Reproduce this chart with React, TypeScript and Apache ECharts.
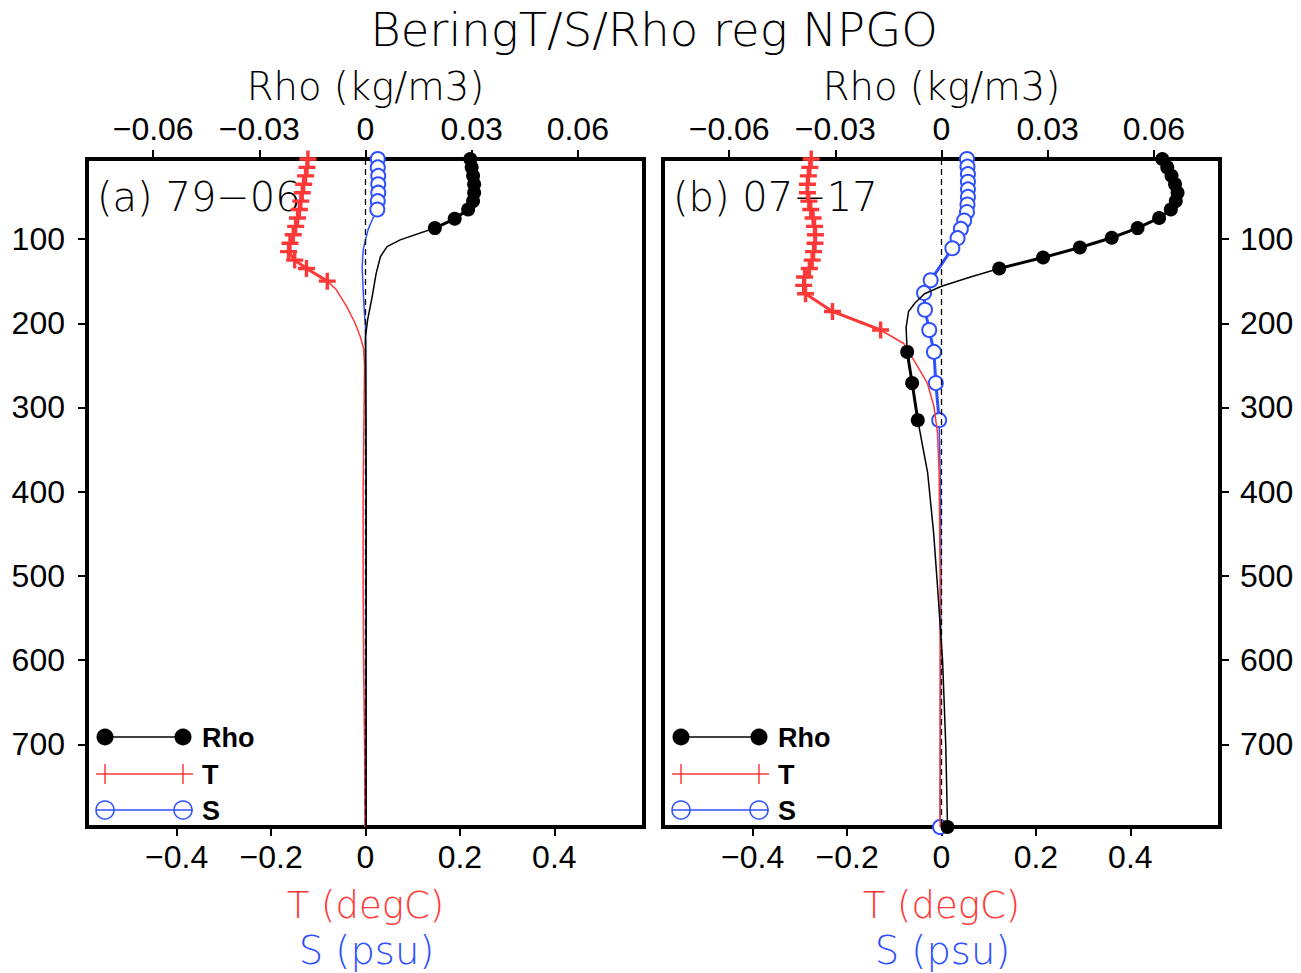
import { useEffect, useRef } from 'react';
import * as echarts from 'echarts';

// ---------- axis ticks ----------
const depthTicks = [100, 200, 300, 400, 500, 600, 700];
const tsTicks = [-0.4, -0.2, 0, 0.2, 0.4];
const rhoTicks = [-0.06, -0.03, 0, 0.03, 0.06];
const depthMin = 5;
const depthMax = 798;
const tsMin = -0.59;
const tsMax = 0.59;
const rhoMin = -0.0787;
const rhoMax = 0.0787;

// ---------- panel (a) 79-06 ----------
const aRhoDepth = [5, 15, 25, 35, 45, 55, 65, 76, 87, 101, 109, 121, 141, 168, 196, 216, 240, 300, 400, 500, 600, 700, 798];
const aRhoVal = [0.0296, 0.03, 0.0304, 0.0307, 0.0307, 0.0304, 0.029, 0.0252, 0.0196, 0.0098, 0.0061, 0.0042, 0.003, 0.0019, 0.0006, 0.0, 0.0, 0.0001, 0.0002, 0.0002, 0.0002, 0.0002, 0.0002];
const aRhoSig = [1, 1, 1, 1, 1, 1, 1, 1, 1, 0, 0, 0, 0, 0, 0, 0, 0, 0, 0, 0, 0, 0, 0];

const aTDepth = [5, 15, 25, 35, 45, 55, 65, 75, 85, 95, 105, 115, 125, 135, 150, 160, 180, 200, 216, 230, 250, 300, 400, 500, 600, 700, 798];
const aTVal = [-0.122, -0.124, -0.127, -0.131, -0.134, -0.137, -0.14, -0.144, -0.148, -0.153, -0.16, -0.163, -0.15, -0.125, -0.081, -0.062, -0.04, -0.022, -0.011, -0.004, -0.002, -0.003, -0.005, -0.005, -0.004, -0.002, -0.001];
const aTSig = [1, 1, 1, 1, 1, 1, 1, 1, 1, 1, 1, 1, 1, 1, 1, 0, 0, 0, 0, 0, 0, 0, 0, 0, 0, 0, 0];

const aSDepth = [5, 15, 25, 35, 45, 55, 65, 75, 88, 101, 113, 133, 161, 190, 204, 250, 300, 400, 500, 600, 700, 798];
const aSVal = [0.026, 0.026, 0.027, 0.027, 0.027, 0.026, 0.025, 0.016, 0.006, 0.0, -0.005, -0.007, -0.005, -0.002, 0.0, 0.001, 0.001, 0.001, 0.001, 0.001, 0.001, 0.001];
const aSSig = [1, 1, 1, 1, 1, 1, 1, 0, 0, 0, 0, 0, 0, 0, 0, 0, 0, 0, 0, 0, 0, 0];

// ---------- panel (b) 07-17 ----------
const bRhoDepth = [5, 15, 25, 35, 45, 55, 65, 75, 87, 98.5, 110, 122, 135, 145, 156, 165, 176, 186, 205, 234, 271, 315, 378, 450, 520, 600, 700, 798];
const bRhoVal = [0.0624, 0.0638, 0.065, 0.066, 0.0667, 0.0662, 0.0648, 0.0615, 0.0554, 0.0481, 0.0391, 0.0287, 0.0163, 0.0082, 0.0, -0.0048, -0.0075, -0.0093, -0.01, -0.0097, -0.0083, -0.0067, -0.0039, -0.0022, -0.001, 0.0003, 0.0012, 0.0017];
const bRhoSig = [1, 1, 1, 1, 1, 1, 1, 1, 1, 1, 1, 1, 1, 0, 0, 0, 0, 0, 0, 1, 1, 1, 0, 0, 0, 0, 0, 1];

const bTDepth = [5, 15, 25, 35, 45, 55, 65, 75, 85, 95, 105, 115, 125, 135, 145, 155, 165, 186, 208, 224, 251, 271, 299, 330, 378, 500, 650, 798];
const bTVal = [-0.276, -0.279, -0.282, -0.284, -0.284, -0.281, -0.277, -0.272, -0.269, -0.267, -0.268, -0.271, -0.274, -0.28, -0.29, -0.292, -0.288, -0.231, -0.129, -0.08, -0.051, -0.03, -0.016, -0.0085, -0.005, -0.003, -0.003, -0.003];
const bTSig = [1, 1, 1, 1, 1, 1, 1, 1, 1, 1, 1, 1, 1, 1, 1, 1, 1, 1, 1, 0, 0, 0, 0, 0, 0, 0, 0, 0];

const bSDepth = [5, 14, 23, 32, 41, 50, 59, 68, 78, 88, 99, 111, 149, 164, 184, 208, 234, 271, 315, 400, 500, 650, 798];
const bSVal = [0.054, 0.055, 0.056, 0.056, 0.056, 0.056, 0.055, 0.054, 0.048, 0.041, 0.034, 0.023, -0.023, -0.037, -0.035, -0.026, -0.016, -0.012, -0.005, -0.002, -0.001, -0.002, -0.003];
const bSSig = [1, 1, 1, 1, 1, 1, 1, 1, 1, 1, 1, 1, 1, 1, 1, 1, 1, 1, 1, 0, 0, 0, 1];

const panelLabels = ['(a) 79\u221206', '(b) 07\u221217'];
const titleText = 'BeringT/S/Rho reg NPGO';

const RED = '#ff3838';
const BLUE = '#2f50ff';
const PLUS = 'path://M4,0 H6 V4 H10 V6 H6 V10 H4 V6 H0 V4 H4 Z';

function fmt(v: number): string {
  if (v === 0) return '0';
  const s = String(Math.abs(v));
  return v < 0 ? '\u2212' + s : s;
}

function full(depth: number[], val: number[]) {
  return depth.map((d, i) => [val[i], d]);
}
function sigOnly(depth: number[], val: number[], sig: number[]) {
  return depth.map((d, i) => (sig[i] ? [val[i], d] : ['-', d]));
}

const GRID_LEFT = [87, 663];
const GRID_TOP = 159;
const GRID_W = 557;
const GRID_H = 668;

export default function App() {
  const ref = useRef<HTMLDivElement>(null);
  useEffect(() => {
    if (!ref.current) return;
    const chart = echarts.init(ref.current, undefined, { renderer: 'svg' });
    const tickFont = { fontFamily: 'Liberation Sans', fontSize: 32, color: '#000' };

    const grids: any[] = [];
    const xAxes: any[] = [];
    const yAxes: any[] = [];
    const series: any[] = [];
    const graphics: any[] = [];

    const panels = [
      { rho: [aRhoDepth, aRhoVal, aRhoSig], t: [aTDepth, aTVal, aTSig], s: [aSDepth, aSVal, aSSig] },
      { rho: [bRhoDepth, bRhoVal, bRhoSig], t: [bTDepth, bTVal, bTSig], s: [bSDepth, bSVal, bSSig] },
    ];

    const thinFont = { fontFamily: 'DejaVu Sans', fontWeight: 200 };

    panels.forEach((p, k) => {
      grids.push({
        left: GRID_LEFT[k], top: GRID_TOP, width: GRID_W, height: GRID_H,
        show: true, borderColor: '#000', borderWidth: 4, backgroundColor: 'transparent',
      });
      // bottom T/S axis
      xAxes.push({
        type: 'value', gridIndex: k, position: 'bottom', min: tsMin, max: tsMax,
        axisLine: { show: false, onZero: false },
        axisTick: { show: true, inside: false, length: 9, lineStyle: { color: '#000', width: 2 }, customValues: tsTicks },
        axisLabel: { ...tickFont, margin: 14, customValues: tsTicks, formatter: (v: number) => fmt(v) },
        splitLine: { show: false },
      });
      // top Rho axis
      xAxes.push({
        type: 'value', gridIndex: k, position: 'top', min: rhoMin, max: rhoMax,
        axisLine: { show: false, onZero: false },
        axisTick: { show: true, inside: false, length: 9, lineStyle: { color: '#000', width: 2 }, customValues: rhoTicks },
        axisLabel: { ...tickFont, margin: 14, customValues: rhoTicks, formatter: (v: number) => fmt(v) },
        splitLine: { show: false },
      });
      yAxes.push({
        type: 'value', gridIndex: k, position: k === 0 ? 'left' : 'right', inverse: true,
        min: depthMin, max: depthMax,
        axisLine: { show: false, onZero: false },
        axisTick: { show: true, inside: false, length: 9, lineStyle: { color: '#000', width: 2 }, customValues: depthTicks },
        axisLabel: { ...tickFont, margin: k === 0 ? 22 : 20, customValues: depthTicks },
        splitLine: { show: false },
      });

      const xTS = 2 * k;
      const xRho = 2 * k + 1;
      // S
      series.push({
        type: 'line', xAxisIndex: xTS, yAxisIndex: k, data: full(p.s[0], p.s[1]),
        symbol: 'none', lineStyle: { color: BLUE, width: 1.5 }, z: 2,
        markLine: {
          silent: true, symbol: ['none', 'none'], label: { show: false },
          lineStyle: { color: '#000', type: [6, 4], width: 1.3 },
          data: [{ xAxis: 0 }],
        },
      });
      series.push({
        type: 'line', xAxisIndex: xTS, yAxisIndex: k, data: sigOnly(p.s[0], p.s[1], p.s[2]),
        symbol: 'emptyCircle', symbolSize: 14, connectNulls: false,
        lineStyle: { color: BLUE, width: 3 },
        itemStyle: { color: BLUE, borderColor: BLUE, borderWidth: 3 }, z: 3,
      });
      // T
      series.push({
        type: 'line', xAxisIndex: xTS, yAxisIndex: k, data: full(p.t[0], p.t[1]),
        symbol: 'none', lineStyle: { color: RED, width: 1.5 }, z: 4,
      });
      series.push({
        type: 'line', xAxisIndex: xTS, yAxisIndex: k, data: sigOnly(p.t[0], p.t[1], p.t[2]),
        symbol: PLUS, symbolSize: 17, connectNulls: false,
        lineStyle: { color: RED, width: 3 },
        itemStyle: { color: RED }, z: 5,
      });
      // Rho
      series.push({
        type: 'line', xAxisIndex: xRho, yAxisIndex: k, data: full(p.rho[0], p.rho[1]),
        symbol: 'none', lineStyle: { color: '#000', width: 1.5 }, z: 6,
      });
      series.push({
        type: 'line', xAxisIndex: xRho, yAxisIndex: k, data: sigOnly(p.rho[0], p.rho[1], p.rho[2]),
        symbol: 'circle', symbolSize: 14, connectNulls: false,
        lineStyle: { color: '#000', width: 3 },
        itemStyle: { color: '#000' }, z: 7,
      });

      const ox = GRID_LEFT[k] - GRID_LEFT[0];
      const cx = GRID_LEFT[k] + GRID_W / 2;
      // axis names
      graphics.push({
        type: 'text', x: cx, y: 86, z: 1,
        style: { text: 'Rho (kg/m3)', fill: '#000', ...thinFont, fontSize: 38.5, textAlign: 'center', textVerticalAlign: 'middle', align: 'center', verticalAlign: 'middle' },
      });
      graphics.push({
        type: 'text', x: cx, y: 905, z: 1,
        style: { text: 'T (degC)', fill: RED, ...thinFont, fontSize: 37, textAlign: 'center', textVerticalAlign: 'middle', align: 'center', verticalAlign: 'middle' },
      });
      graphics.push({
        type: 'text', x: cx + 1, y: 950, z: 1,
        style: { text: 'S (psu)', fill: BLUE, ...thinFont, fontSize: 38.5, textAlign: 'center', textVerticalAlign: 'middle', align: 'center', verticalAlign: 'middle' },
      });
      // panel label
      graphics.push({
        type: 'text', x: 97 + ox, y: 197, z: 1,
        style: { text: panelLabels[k], fill: '#000', ...thinFont, fontSize: 40, textAlign: 'left', textVerticalAlign: 'middle', align: 'left', verticalAlign: 'middle' },
      });
      // legend
      const legFont = { fontFamily: 'Liberation Sans', fontWeight: 'bold', fontSize: 27, fill: '#000', textAlign: 'left', textVerticalAlign: 'middle', align: 'left', verticalAlign: 'middle' };
      graphics.push({ type: 'line', z: 1, shape: { x1: 105 + ox, y1: 737, x2: 183 + ox, y2: 737 }, style: { stroke: '#000', lineWidth: 1.5 } });
      graphics.push({ type: 'circle', z: 1, shape: { cx: 105 + ox, cy: 737, r: 8.5 }, style: { fill: '#000' } });
      graphics.push({ type: 'circle', z: 1, shape: { cx: 183 + ox, cy: 737, r: 8.5 }, style: { fill: '#000' } });
      graphics.push({ type: 'text', z: 1, x: 202 + ox, y: 738, style: { text: 'Rho', ...legFont } });

      graphics.push({ type: 'line', z: 1, shape: { x1: 96 + ox, y1: 774, x2: 193 + ox, y2: 774 }, style: { stroke: RED, lineWidth: 1.5 } });
      graphics.push({ type: 'line', z: 1, shape: { x1: 105 + ox, y1: 764, x2: 105 + ox, y2: 784 }, style: { stroke: RED, lineWidth: 1.5 } });
      graphics.push({ type: 'line', z: 1, shape: { x1: 183 + ox, y1: 764, x2: 183 + ox, y2: 784 }, style: { stroke: RED, lineWidth: 1.5 } });
      graphics.push({ type: 'text', z: 1, x: 202 + ox, y: 775, style: { text: 'T', ...legFont } });

      graphics.push({ type: 'line', z: 1, shape: { x1: 96 + ox, y1: 810, x2: 193 + ox, y2: 810 }, style: { stroke: BLUE, lineWidth: 1.5 } });
      graphics.push({ type: 'circle', z: 1, shape: { cx: 105 + ox, cy: 810, r: 9 }, style: { fill: 'none', stroke: BLUE, lineWidth: 1.5 } });
      graphics.push({ type: 'circle', z: 1, shape: { cx: 183 + ox, cy: 810, r: 9 }, style: { fill: 'none', stroke: BLUE, lineWidth: 1.5 } });
      graphics.push({ type: 'text', z: 1, x: 202 + ox, y: 811, style: { text: 'S', ...legFont } });
    });

    graphics.push({
      type: 'text', x: 654, y: 30, z: 1,
      style: { text: titleText, fill: '#000', ...thinFont, fontSize: 46.5, textAlign: 'center', textVerticalAlign: 'middle', align: 'center', verticalAlign: 'middle' },
    });

    chart.setOption({
      animation: false,
      backgroundColor: '#fff',
      grid: grids,
      xAxis: xAxes,
      yAxis: yAxes,
      series,
      graphic: { elements: graphics },
    });
    return () => chart.dispose();
  }, []);

  return <div ref={ref} style={{ position: 'absolute', left: 0, top: 0, width: 1301, height: 973 }} />;
}
